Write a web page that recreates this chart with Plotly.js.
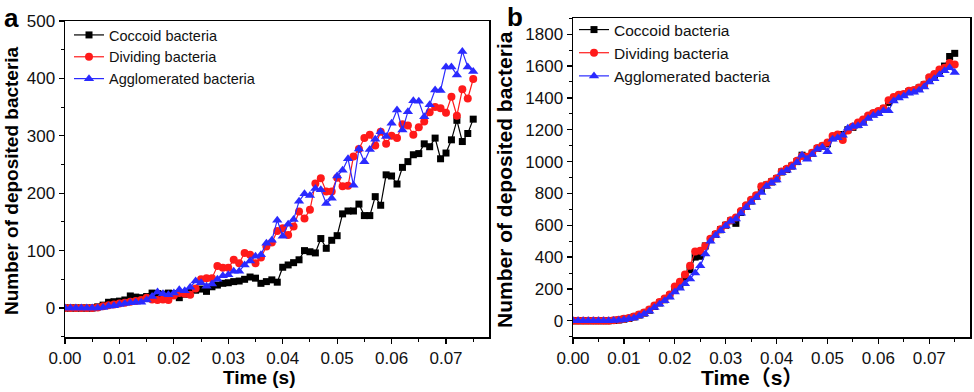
<!DOCTYPE html>
<html>
<head>
<meta charset="utf-8">
<script src="https://cdn.plot.ly/plotly-3.0.1.min.js"></script>
<style>html,body{margin:0;padding:0;background:#fff;}#chart{width:974px;height:392px;}</style>
</head>
<body>
<div id="chart"></div>
<script>
// Time in seconds (0 to 0.075, step 0.001)
const timeA = [0,0.001,0.002,0.003,0.004,0.005,0.006,0.007,0.008,0.009,0.010,0.011,0.012,0.013,0.014,0.015,0.016,0.017,0.018,0.019,0.020,0.021,0.022,0.023,0.024,0.025,0.026,0.027,0.028,0.029,0.030,0.031,0.032,0.033,0.034,0.035,0.036,0.037,0.038,0.039,0.040,0.041,0.042,0.043,0.044,0.045,0.046,0.047,0.048,0.049,0.050,0.051,0.052,0.053,0.054,0.055,0.056,0.057,0.058,0.059,0.060,0.061,0.062,0.063,0.064,0.065,0.066,0.067,0.068,0.069,0.070,0.071,0.072,0.073,0.074,0.075];
const timeB = timeA;

// Panel a
const coccoidA = [0,0,0,0,0,0,2,5,10,11,12,14,21,19,18,20,26,25,24,26,25,18,24,28,31,33,29,37,40,43,44,46,47,50,54,52,43,46,49,45,71,75,79,84,100,98,96,121,104,118,126,164,169,169,181,161,161,194,179,232,230,216,245,255,267,269,286,281,296,260,270,293,327,290,304,329];
const dividingA = [0,0,0,0,0,0,1,3,5,6,8,9,11,12,14,18,15,14,15,14,22,26,25,23,34,50,52,52,73,70,70,84,78,96,93,78,88,107,114,134,139,127,142,168,156,171,217,226,203,203,227,212,213,264,277,296,302,283,307,286,300,296,320,318,302,315,325,341,350,348,340,368,335,381,365,399];
const agglomeratedA = [0,0,0,0,0,0,0,1,3,4,6,8,9,10,10,14,20,28,25,23,26,32,30,36,47,44,38,42,50,56,58,64,64,75,82,90,93,113,118,153,125,146,154,186,199,196,208,206,182,191,230,240,260,214,277,255,276,294,307,299,322,345,310,342,361,360,333,354,380,379,420,420,406,447,420,412];

// Panel b
const coccoidB = [0,0,0,0,0,0,0,0,2,5,10,15,24,36,48,66,90,112,132,158,192,222,270,320,400,405,470,510,542,572,600,628,612,680,718,752,782,822,852,872,892,935,950,972,1000,1040,1028,1052,1082,1096,1112,1150,1160,1170,1200,1215,1232,1250,1282,1300,1312,1330,1372,1395,1410,1422,1440,1446,1462,1482,1522,1542,1572,1600,1660,1680];
const dividingB = [0,0,0,0,0,0,0,0,3,6,12,18,26,40,52,70,96,118,140,165,215,245,290,345,435,440,470,515,545,575,602,632,648,690,725,760,788,845,855,875,895,938,955,975,1005,1035,1030,1055,1085,1100,1120,1160,1170,1135,1195,1220,1245,1265,1290,1305,1318,1335,1385,1405,1420,1425,1445,1450,1465,1485,1530,1550,1578,1590,1620,1610];
const agglomeratedB = [0,0,0,0,0,0,0,0,1,3,7,12,18,30,42,60,84,104,125,148,180,205,232,262,300,345,420,500,535,565,595,625,640,676,712,745,775,805,845,865,885,930,945,965,995,1040,1015,1045,1078,1090,1062,1140,1150,1165,1210,1220,1225,1240,1270,1290,1300,1320,1320,1380,1400,1412,1430,1435,1448,1468,1500,1520,1545,1570,1590,1560];

const seriesNames = ['Coccoid bacteria','Dividing bacteria','Agglomerated bacteria'];
const colors = ['#000000','#ff1a1a','#2a2aff'];
const symbols = ['square','circle','triangle-up'];
const sizes = [7,8,9];

const fontFam = 'Arial, "Liberation Sans", "Noto Sans CJK SC", sans-serif';

function mk(x, y, i, xa, ya, leg) {
  return {
    x: x, y: y, type: 'scatter', mode: 'lines+markers', name: seriesNames[i],
    xaxis: xa, yaxis: ya, legend: leg,
    line: {color: colors[i], width: 1.2},
    marker: {color: colors[i], symbol: symbols[i], size: sizes[i], line: {width: 0}}
  };
}

const data = [
  mk(timeA, coccoidA, 0, 'x', 'y', 'legend'),
  mk(timeA, dividingA, 1, 'x', 'y', 'legend'),
  mk(timeA, agglomeratedA, 2, 'x', 'y', 'legend'),
  mk(timeB, coccoidB, 0, 'x2', 'y2', 'legend2'),
  mk(timeB, dividingB, 1, 'x2', 'y2', 'legend2'),
  mk(timeB, agglomeratedB, 2, 'x2', 'y2', 'legend2')
];

const W = 974, H = 392;
function axisCommon() {
  return {
    showline: true, linecolor: '#000', linewidth: 1.5, mirror: true,
    ticks: 'outside', ticklen: 5, tickwidth: 1.2, tickcolor: '#000',
    showgrid: false, zeroline: false,
    tickfont: {family: fontFam, size: 17, color: '#111'}
  };
}

const layout = {
  width: W, height: H,
  margin: {l: 0, r: 0, t: 0, b: 0},
  paper_bgcolor: '#fff', plot_bgcolor: '#fff',
  showlegend: true,
  xaxis: Object.assign(axisCommon(), {
    domain: [65/W, 489/W], range: [0, 0.0779], anchor: 'y',
    tick0: 0, dtick: 0.01, tickformat: '.2f',
    minor: {dtick: 0.005, ticks: 'outside', ticklen: 3, tickcolor: '#000', tickwidth: 1}
  }),
  yaxis: Object.assign(axisCommon(), {
    domain: [55/H, 371/H], range: [-50.5, 500], anchor: 'x',
    tick0: 0, dtick: 100,
    minor: {dtick: 50, ticks: 'outside', ticklen: 3, tickcolor: '#000', tickwidth: 1}
  }),
  xaxis2: Object.assign(axisCommon(), {
    domain: [573/W, 970/W], range: [0, 0.078], anchor: 'y2',
    tick0: 0, dtick: 0.01, tickformat: '.2f',
    minor: {dtick: 0.005, ticks: 'outside', ticklen: 3, tickcolor: '#000', tickwidth: 1}
  }),
  yaxis2: Object.assign(axisCommon(), {
    domain: [55/H, 374/H], range: [-102, 1902], anchor: 'x2',
    tick0: 0, dtick: 200,
    minor: {dtick: 100, ticks: 'outside', ticklen: 3, tickcolor: '#000', tickwidth: 1}
  }),
  legend: {
    x: 69/W, y: 1 - 19/H, xanchor: 'left', yanchor: 'top',
    bgcolor: 'rgba(0,0,0,0)', borderwidth: 0,
    font: {family: fontFam, size: 14.5, color: '#111'},
    tracegroupgap: 0, itemsizing: 'trace'
  },
  legend2: {
    x: 574/W, y: 1 - 13/H, xanchor: 'left', yanchor: 'top',
    bgcolor: 'rgba(0,0,0,0)', borderwidth: 0,
    font: {family: fontFam, size: 15.5, color: '#111'},
    tracegroupgap: 0, itemsizing: 'trace'
  },
  annotations: [
    {text: '<b>a</b>', xref: 'paper', yref: 'paper', x: 2/W, y: 1 - 1/H, xanchor: 'left', yanchor: 'top', showarrow: false, font: {family: fontFam, size: 26, color: '#000'}},
    {text: '<b>b</b>', xref: 'paper', yref: 'paper', x: 505/W, y: 1 - 0/H, xanchor: 'left', yanchor: 'top', showarrow: false, font: {family: fontFam, size: 26, color: '#000'}},
    {text: '<b>Time (s)</b>', xref: 'paper', yref: 'paper', x: 259/W, y: 1 - 377/H, xanchor: 'center', yanchor: 'middle', showarrow: false, font: {family: fontFam, size: 19, color: '#000'}},
    {text: '<b>Time（s）</b>', xref: 'paper', yref: 'paper', x: 752/W, y: 1 - 377/H, xanchor: 'center', yanchor: 'middle', showarrow: false, font: {family: fontFam, size: 21, color: '#000'}},
    {text: '<b>Number of deposited bacteria</b>', xref: 'paper', yref: 'paper', x: 11/W, y: 1 - 181/H, xanchor: 'center', yanchor: 'middle', textangle: -90, showarrow: false, font: {family: fontFam, size: 19, color: '#000'}},
    {text: '<b>Number of deposited bacteria</b>', xref: 'paper', yref: 'paper', x: 505/W, y: 1 - 180/H, xanchor: 'center', yanchor: 'middle', textangle: -90, showarrow: false, font: {family: fontFam, size: 21, color: '#000'}}
  ]
};

Plotly.newPlot('chart', data, layout, {displayModeBar: false, staticPlot: true});
</script>
</body>
</html>
